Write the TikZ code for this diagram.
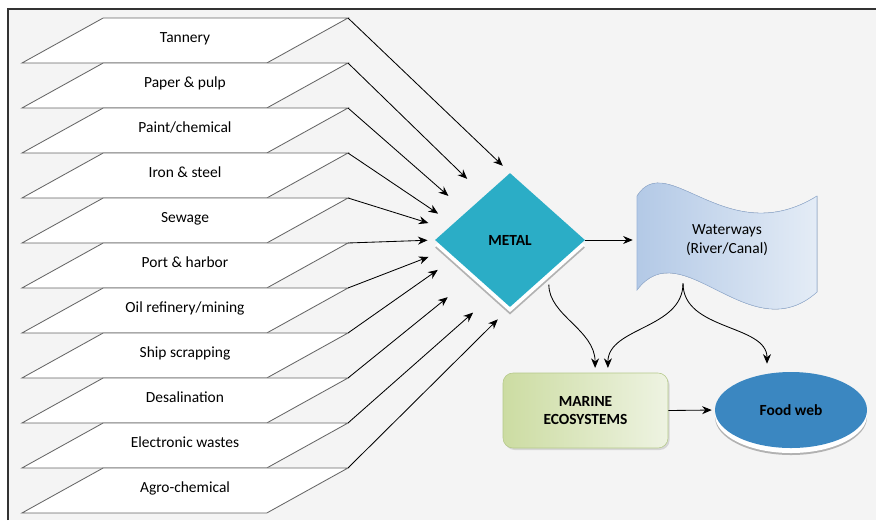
\documentclass[tikz,border=0pt]{standalone}
\usepackage{fontspec}
\setmainfont{Carlito}
\usepackage{xcolor}
\usepackage{tikz}
\usetikzlibrary{positioning,arrows.meta,shapes.geometric,shadows,calc}

\definecolor{panel}{HTML}{F4F4F4}
\definecolor{metalcyan}{HTML}{2BADC6}
\definecolor{foodblue}{HTML}{3B87C1}
\definecolor{wavedark}{HTML}{B3C9E6}
\definecolor{wavelight}{HTML}{E4ECF6}
\definecolor{wavedge}{HTML}{9CB5D8}
\definecolor{seadark}{HTML}{CCDCA2}
\definecolor{sealight}{HTML}{EEF3E2}
\definecolor{seaedge}{HTML}{B5C98A}

\begin{document}
\begin{tikzpicture}[
  x=0.25mm, y=-0.25mm,
  font=\fontsize{11pt}{13pt}\selectfont,
  src/.style={
    trapezium, trapezium left angle=29, trapezium right angle=151,
    trapezium stretches body,
    draw=black!60, fill=white, line width=0.6pt,
    text height=7.2pt, text depth=3.8pt,
    inner xsep=0pt, inner ysep=10.5pt, outer sep=0pt,
    minimum width=81.5mm
  },
  hub/.style={
    diamond, fill=metalcyan, inner sep=0pt,
    minimum width=37.5mm, minimum height=33.5mm,
    font=\fontsize{11pt}{13pt}\selectfont\bfseries,
    general shadow={fill=black!30, shadow yshift=-1.9mm},
    general shadow={fill=white, shadow yshift=-1.3mm}
  },
  flow/.style={
    minimum width=45mm, minimum height=21.5mm, align=center, inner sep=0pt
  },
  eco/.style={
    rectangle, rounded corners=2.5mm, draw=seaedge, line width=0.4pt,
    left color=seadark, right color=sealight,
    minimum width=41.25mm, minimum height=18.75mm, align=center,
    font=\fontsize{11pt}{13pt}\selectfont\bfseries,
    drop shadow={shadow xshift=0.4mm, shadow yshift=-0.5mm, opacity=0.25}
  },
  web/.style={
    ellipse, fill=foodblue, inner sep=0pt,
    minimum width=38mm, minimum height=19mm,
    font=\fontsize{11pt}{13pt}\selectfont\bfseries,
    general shadow={fill=black!30, shadow yshift=-1.75mm},
    general shadow={fill=white, shadow yshift=-1.25mm}
  },
  arr/.style={-{Stealth[length=2.4mm, width=2mm]}, line width=0.6pt, black}
]

% --- panel ---
\useasboundingbox (0,0) rectangle (876,520);
\fill[panel] (8,9) rectangle (876,520);
\draw[black!80, line width=0.8pt] (8,520) -- (8,9) -- (876,9);

% --- Sources, stacked ---
\node[src] (tan) at (185,40.5) {Tannery};
\node[src, below=0pt of tan] (pap) {Paper \& pulp};
\node[src, below=0pt of pap] (pnt) {Paint/chemical};
\node[src, below=0pt of pnt] (irn) {Iron \& steel};
\node[src, below=0pt of irn] (sew) {Sewage};
\node[src, below=0pt of sew] (prt) {Port \& harbor};
\node[src, below=0pt of prt] (oil) {Oil refinery/mining};
\node[src, below=0pt of oil] (shp) {Ship scrapping};
\node[src, below=0pt of shp] (des) {Desalination};
\node[src, below=0pt of des] (ele) {Electronic wastes};
\node[src, below=0pt of ele] (agr) {Agro-chemical};

% --- Metal and what follows ---
\node[hub] (metal) at (510,240) {METAL};
\node[flow] (water) at (727,240) {};
\begin{scope}[shift={(water.center)}]
  \filldraw[left color=wavedark, right color=wavelight, draw=wavedge, line width=0.4pt]
    (-90,-44) .. controls (-60,-92) and (0,12) .. (90,-44)
    -- (90,52) .. controls (23,112) and (-45,-10) .. (-90,50) -- cycle;
\end{scope}
\node[flow] at (water.center) {Waterways\\(River/Canal)};
\coordinate (fork) at ([xshift=-11mm]water.south);
\node[eco] (marine) at (585.5,410.5) {MARINE\\ECOSYSTEMS};
\node[web] (food) at (791,410) {Food web};

% --- Sources -> metal ---
\draw[arr, shorten >=2.5mm] (tan.top right corner) -- (metal.north);
\draw[arr, shorten >=6mm]   (pap.top right corner) -- (metal.120);
\draw[arr, shorten >=6mm]   (pnt.top right corner) -- (metal.147);
\draw[arr, shorten >=4.5mm] (irn.top right corner) -- (metal.164);
\draw[arr, shorten >=4.9mm] (sew.top right corner) -- (metal.170);
\draw[arr, shorten >=1.8mm] (prt.top right corner) -- (metal.west);
\draw[arr, shorten >=4.7mm] (oil.top right corner) -- (metal.189);
\draw[arr, shorten >=5.2mm] (shp.top right corner) -- (metal.198);
\draw[arr, shorten >=8.6mm] (des.top right corner) -- (metal.225);
\draw[arr, shorten >=7.2mm] (ele.top right corner) -- (metal.254);
\draw[arr, shorten >=4.3mm] (agr.top right corner) -- (metal.south);

% --- Onward flow ---
\draw[arr, shorten >=1mm] (metal.east) -- (water.west);
\draw[arr, shorten <=3mm, shorten >=1.2mm] (metal.-40) to[out=-90, in=90] ([xshift=2.4mm]marine.north);
\draw[arr, shorten >=1.2mm] (fork) to[out=-90, in=90] ([xshift=5.6mm]marine.north);
\draw[arr, shorten >=2mm] (fork) to[out=-90, in=90] ([xshift=-6mm]food.north);
\draw[arr, shorten >=0.75mm] (marine.east) -- (food.west);

\end{tikzpicture}
\end{document}
